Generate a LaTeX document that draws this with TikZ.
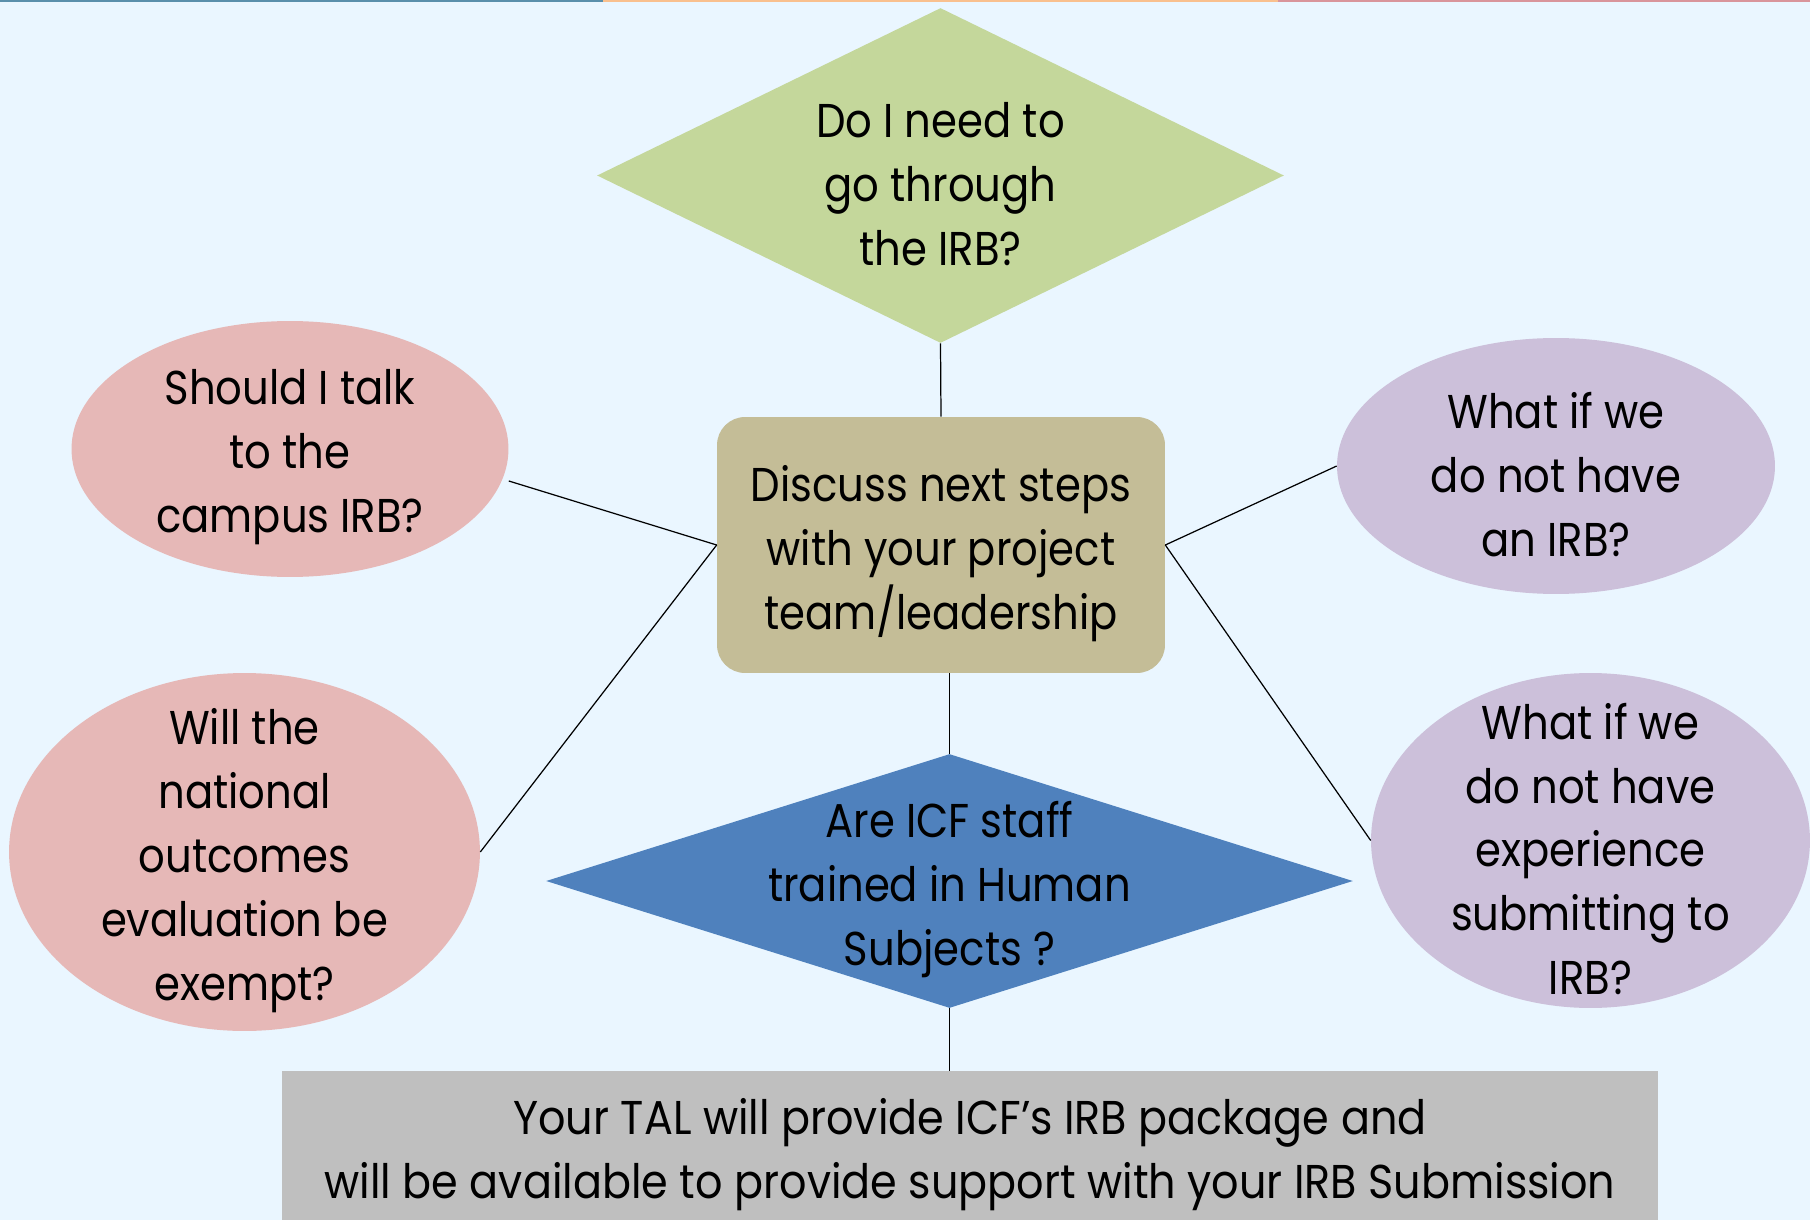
\documentclass[tikz,border=0pt]{standalone}
\usepackage{fontspec}
\setmainfont{Poppins}[FakeStretch=0.88]
\newfontfamily\talfont{Poppins}[FakeStretch=0.905]
\usepackage{xcolor}
\usetikzlibrary{
  positioning,
  calc,
  shapes.geometric}
\definecolor{bgblue}{HTML}{EAF6FF}
\definecolor{stripblue}{HTML}{5A8FAB}
\definecolor{striporange}{HTML}{F9C08E}
\definecolor{strippink}{HTML}{D9959B}
\definecolor{qgreen}{HTML}{C4D79B}
\definecolor{qtan}{HTML}{C4BD97}
\definecolor{qpink}{HTML}{E6B8B7}
\definecolor{qlilac}{HTML}{CCC0DA}
\definecolor{qblue}{HTML}{4F81BD}
\definecolor{qgray}{HTML}{BFBFBF}
\tikzset{every picture/.style={font issue=\fontsize{27}{36.4}},
         font issue/.style={execute at begin picture={#1\selectfont}}
        }
\tikzset{
  qdiamond/.style={diamond, inner sep=0pt, draw=none},
  oval/.style={ellipse, inner sep=0pt, draw=none},
  txt/.style={align=center, inner sep=0pt},
  link/.style={line width=0.7pt, black}
}

\begin{document}
\begin{tikzpicture}[x=0.02cm,y=-0.02cm]

\useasboundingbox (0,0) rectangle (1810,1220);
\fill[bgblue] (0,0) rectangle (1810,1220);
\fill[stripblue] (0,0) rectangle (603,2.5);
\fill[striporange] (603,0) rectangle (1278,2.5);
\fill[strippink] (1278,0) rectangle (1810,2.5);

%shapes
\node[qdiamond, fill=qgreen, minimum width=13.74cm, minimum height=6.7cm] (irb) at (940.5,175.5) {};
\node[rectangle, rounded corners=0.56cm, fill=qtan, minimum width=8.96cm, minimum height=5.12cm] (discuss) at (941,545) {};
\node[oval, fill=qpink, minimum width=8.74cm, minimum height=5.12cm] (talk) at (290,449) {};
\node[oval, fill=qpink, minimum width=9.42cm, minimum height=7.16cm] (exempt) at (244.5,852) {};
\node[oval, fill=qlilac, minimum width=8.76cm, minimum height=5.12cm] (noirb) at (1556,466) {};
\node[oval, fill=qlilac, minimum width=8.78cm, minimum height=6.7cm] (noexp) at (1590.5,840.5) {};
\node[qdiamond, fill=qblue, minimum width=16.14cm, minimum height=5.08cm] (train) at (949.5,881) {};
\node[rectangle, fill=qgray, minimum width=27.52cm, minimum height=3.2cm] (tal) at (970,1151) {};

%texts
\node[txt] at ([yshift=-0.17cm]irb.center) {Do I need to\\go through\\the IRB?};
\node[txt] at ([yshift=-0.17cm]discuss.center) {Discuss next steps\\with your project\\team/leadership};
\node[txt] at ([yshift=-0.17cm]talk.center) {Should I talk\\to the\\campus IRB?};
\node[txt] at ([yshift=-0.17cm]exempt.center) {Will the\\national\\outcomes\\evaluation be\\exempt?};
\node[txt] at ([yshift=-0.17cm]noirb.center) {What if we\\do not have\\an IRB?};
\node[txt] at ([yshift=-0.17cm]noexp.center) {What if we\\do not have\\experience\\submitting to\\IRB?};
\node[txt] at ([yshift=-0.17cm]train.center) {Are ICF staff\\trained in Human\\Subjects ?};
\node[txt, font=\talfont] at ([yshift=-0.07cm]tal.center) {Your TAL will provide ICF’s IRB package and\\will be available to provide support with your IRB Submission};

%connectors
\draw[link] (irb.south) -- (discuss.north);
\draw[link] (discuss.west) -- ([yshift=-0.64cm]talk.east);
\draw[link] (discuss.west) -- (exempt.east);
\draw[link] (discuss.east) -- (noirb.west);
\draw[link] (discuss.east) -- (noexp.west);
\draw[link] (discuss.south -| train.north) -- (train.north);
\draw[link] (train.south) -- (train.south |- tal.north);

\end{tikzpicture}
\end{document}
